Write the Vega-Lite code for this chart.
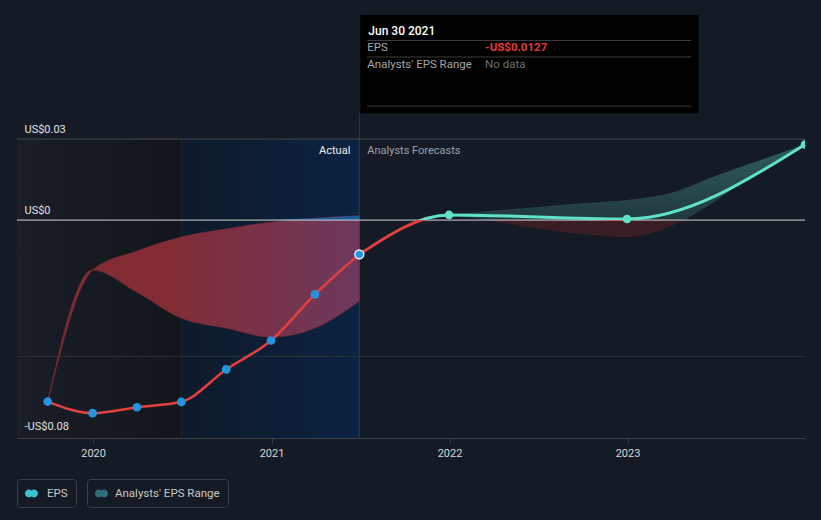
{
  "$schema": "https://vega.github.io/schema/vega-lite/v6.json",
  "width": 788,
  "height": 438,
  "autosize": {"type": "none"},
  "padding": {"left": 17, "right": 16, "top": 0, "bottom": 82},
  "background": "#151b24",
  "config": {"view": {"stroke": null}, "font": "Roboto"},
  "datasets": {
    "eps": [
      {"date": "2019-09-30", "eps": -0.0672},
      {"date": "2019-12-31", "eps": -0.0715},
      {"date": "2020-03-31", "eps": -0.0693},
      {"date": "2020-06-30", "eps": -0.0673},
      {"date": "2020-09-30", "eps": -0.0553},
      {"date": "2020-12-31", "eps": -0.0446},
      {"date": "2021-03-31", "eps": -0.0275},
      {"date": "2021-06-30", "eps": -0.0127}
    ],
    "fcline": [
      {"date": "2021-06-30", "eps": -0.0127},
      {"date": "2021-12-31", "eps": 0.0019},
      {"date": "2022-12-31", "eps": 0.0004},
      {"date": "2023-12-31", "eps": 0.028}
    ],
    "fcpts": [
      {"date": "2021-12-31", "eps": 0.0019},
      {"date": "2022-12-31", "eps": 0.0004},
      {"date": "2023-12-31", "eps": 0.028}
    ],
    "past": [
      {"date": "2019-09-30", "low": -0.0672, "high": -0.0672},
      {"date": "2019-12-31", "low": -0.0185, "high": -0.0185},
      {"date": "2020-03-31", "low": -0.0267, "high": -0.0115},
      {"date": "2020-06-30", "low": -0.0363, "high": -0.0063},
      {"date": "2020-09-30", "low": -0.04, "high": -0.0033},
      {"date": "2020-12-31", "low": -0.0433, "high": -0.0008},
      {"date": "2021-03-31", "low": -0.04, "high": 0.0007},
      {"date": "2021-06-30", "low": -0.03, "high": 0.0016}
    ],
    "sliver": [
      {"date": "2020-12-15", "high": 0},
      {"date": "2021-03-31", "high": 0.0007},
      {"date": "2021-06-30", "high": 0.0016}
    ],
    "fc": [
      {"date": "2021-12-31", "low": 0.0019, "high": 0.0019},
      {"date": "2022-03-31", "low": -0.0004, "high": 0.0035},
      {"date": "2022-06-30", "low": -0.003, "high": 0.0048},
      {"date": "2022-09-30", "low": -0.0052, "high": 0.0062},
      {"date": "2022-12-31", "low": -0.0063, "high": 0.0074},
      {"date": "2023-03-31", "low": -0.0022, "high": 0.01},
      {"date": "2023-06-30", "low": 0.007, "high": 0.0163},
      {"date": "2023-09-30", "low": 0.0185, "high": 0.0222},
      {"date": "2023-12-31", "low": 0.028, "high": 0.028}
    ]
  },
  "resolve": {"scale": {"color": "independent"}},
  "layer": [
    {
      "data": {"values": [{}]},
      "mark": {"type": "rect", "fill": {"gradient": "linear", "x1": 0, "y1": 0, "x2": 1, "y2": 0, "stops": [{"offset": 0, "color": "#191e27"}, {"offset": 1, "color": "#12161c"}]}},
      "encoding": {
        "x": {"datum": {"year": 2019, "month": 7, "date": 29, "utc": true}, "type": "temporal", "title": null},
        "x2": {"datum": {"year": 2020, "month": 6, "date": 30, "utc": true}},
        "y": {"datum": 0.03, "type": "quantitative", "title": null},
        "y2": {"datum": -0.0807}
      }
    },
    {
      "data": {"values": [{}]},
      "mark": {"type": "rect", "fill": {"gradient": "linear", "x1": 0, "y1": 0, "x2": 1, "y2": 0, "stops": [{"offset": 0, "color": "#0f1a2a"}, {"offset": 1, "color": "#0b2341"}]}},
      "encoding": {
        "x": {"datum": {"year": 2020, "month": 6, "date": 30, "utc": true}, "type": "temporal", "title": null},
        "x2": {"datum": {"year": 2021, "month": 6, "date": 30, "utc": true}},
        "y": {"datum": 0.03, "type": "quantitative", "title": null},
        "y2": {"datum": -0.0807}
      }
    },
    {
      "data": {"values": [{}]},
      "mark": {"type": "rule", "color": "#172a42", "strokeWidth": 1},
      "encoding": {
        "x": {"datum": {"year": 2020, "month": 6, "date": 30, "utc": true}, "type": "temporal", "title": null},
        "y": {"datum": 0.03, "type": "quantitative", "title": null},
        "y2": {"datum": -0.0807}
      }
    },
    {
      "data": {"values": [{}]},
      "mark": {"type": "rule", "color": "#1f3d63", "strokeWidth": 1},
      "encoding": {
        "x": {"datum": {"year": 2021, "month": 6, "date": 30, "utc": true}, "type": "temporal", "title": null},
        "y": {"datum": 0.0396, "type": "quantitative", "title": null},
        "y2": {"datum": -0.0807}
      }
    },
    {
      "data": {"values": [{}]},
      "mark": {"type": "rule", "color": "#474c55", "strokeWidth": 1},
      "encoding": {"y": {"datum": 0.03, "type": "quantitative", "title": null}}
    },
    {
      "data": {"values": [{}]},
      "mark": {"type": "rule", "color": "#2b313a", "strokeWidth": 1},
      "encoding": {"y": {"datum": -0.0505, "type": "quantitative", "title": null}}
    },
    {
      "data": {"name": "past"},
      "mark": {"type": "area", "interpolate": "monotone", "fillOpacity": 0.85, "stroke": "#7d2b32", "strokeWidth": 0.7,
        "fill": {"gradient": "linear", "x1": 0, "y1": 0, "x2": 1, "y2": 0, "stops": [{"offset": 0, "color": "#952e35"}, {"offset": 0.4, "color": "#952f37"}, {"offset": 1, "color": "#7e3d62"}]}},
      "encoding": {
        "x": {"field": "date", "type": "temporal", "title": null},
        "y": {"field": "low", "type": "quantitative", "title": null},
        "y2": {"field": "high"}
      }
    },
    {
      "data": {"name": "sliver"},
      "mark": {"type": "area", "interpolate": "monotone", "color": "#1b5d9c"},
      "encoding": {
        "x": {"field": "date", "type": "temporal", "title": null},
        "y": {"field": "high", "type": "quantitative", "title": null},
        "y2": {"datum": 0}
      }
    },
    {
      "data": {"name": "fc"},
      "mark": {"type": "area", "interpolate": "monotone",
        "fill": {"gradient": "linear", "x1": 0, "y1": 0, "x2": 0, "y2": 1, "stops": [{"offset": 0, "color": "#2f5e5c"}, {"offset": 0.8163, "color": "#21393c"}, {"offset": 0.8163, "color": "#3a1d25"}, {"offset": 1, "color": "#3a1d25"}]}},
      "encoding": {
        "x": {"field": "date", "type": "temporal", "title": null},
        "y": {"field": "low", "type": "quantitative", "title": null},
        "y2": {"field": "high"}
      }
    },
    {
      "data": {"values": [{}]},
      "mark": {"type": "rule", "color": "#d2d4d8", "strokeWidth": 1},
      "encoding": {"y": {"datum": 0, "type": "quantitative", "title": null}}
    },
    {
      "data": {"name": "eps"},
      "mark": {"type": "line", "interpolate": "monotone", "color": "#e4403f", "strokeWidth": 2.5},
      "encoding": {
        "x": {
          "field": "date", "type": "temporal", "title": null,
          "scale": {"type": "utc", "domain": [{"year": 2019, "month": 7, "date": 29, "utc": true}, {"year": 2023, "month": 12, "date": 31, "utc": true}]},
          "axis": {
            "values": [{"year": 2020, "month": 1, "date": 1, "utc": true}, {"year": 2021, "month": 1, "date": 1, "utc": true}, {"year": 2022, "month": 1, "date": 1, "utc": true}, {"year": 2023, "month": 1, "date": 1, "utc": true}],
            "format": "%Y", "grid": false, "domainColor": "#3a414b", "tickColor": "#3a414b", "tickSize": 5,
            "labelColor": "#d8d8d8", "labelFontSize": 11, "labelPadding": 4, "labelFlush": false, "title": null
          }
        },
        "y": {
          "field": "eps", "type": "quantitative", "title": null,
          "scale": {"domain": [-0.0807, 0.0815], "nice": false, "zero": false},
          "axis": {
            "values": [-0.08, 0, 0.03],
            "labelExpr": "datum.value == 0 ? 'US$0' : (datum.value < 0 ? '-US$' + format(-datum.value, '.2f') : 'US$' + format(datum.value, '.2f'))",
            "grid": false, "domain": false, "ticks": false, "tickSize": 0,
            "labelAlign": "left", "labelBaseline": "alphabetic", "labelPadding": -7, "labelOffset": -7,
            "labelColor": "#e2e2e2", "labelFontSize": 11, "labelFlush": false, "labelOverlap": false, "zindex": 1, "title": null
          }
        }
      }
    },
    {
      "data": {"name": "fcline"},
      "mark": {"type": "line", "interpolate": "monotone", "strokeWidth": 3,
        "stroke": {"gradient": "linear", "x1": 0, "y1": 0, "x2": 0, "y2": 1, "stops": [{"offset": 0, "color": "#5ee3c8"}, {"offset": 0.688, "color": "#5ee3c8"}, {"offset": 0.688, "color": "#e4403f"}, {"offset": 1, "color": "#e4403f"}]}},
      "encoding": {
        "x": {"field": "date", "type": "temporal", "title": null},
        "y": {"field": "eps", "type": "quantitative", "title": null}
      }
    },
    {
      "data": {"name": "eps"},
      "mark": {"type": "circle", "size": 75, "color": "#2394e0", "opacity": 1},
      "encoding": {
        "x": {"field": "date", "type": "temporal", "title": null},
        "y": {"field": "eps", "type": "quantitative", "title": null}
      }
    },
    {
      "data": {"values": [{"date": "2021-06-30", "eps": -0.0127}]},
      "mark": {"type": "circle", "size": 80, "fill": "#2394e0", "stroke": "#e8eef5", "strokeWidth": 1.5, "opacity": 1},
      "encoding": {
        "x": {"field": "date", "type": "temporal", "title": null},
        "y": {"field": "eps", "type": "quantitative", "title": null}
      }
    },
    {
      "data": {"name": "fcpts"},
      "mark": {"type": "circle", "size": 75, "color": "#5ee3c8", "opacity": 1, "clip": true},
      "encoding": {
        "x": {"field": "date", "type": "temporal", "title": null},
        "y": {"field": "eps", "type": "quantitative", "title": null}
      }
    },
    {
      "data": {"values": [{}]},
      "mark": {"type": "text", "text": "Actual", "align": "right", "baseline": "middle", "dx": -9, "color": "#f2f2f2", "fontSize": 11},
      "encoding": {
        "x": {"datum": {"year": 2021, "month": 6, "date": 30, "utc": true}, "type": "temporal", "title": null},
        "y": {"datum": 0.0256, "type": "quantitative", "title": null}
      }
    },
    {
      "data": {"values": [{}]},
      "mark": {"type": "text", "text": "Analysts Forecasts", "align": "left", "baseline": "middle", "dx": 8, "color": "#9aa1ab", "fontSize": 11},
      "encoding": {
        "x": {"datum": {"year": 2021, "month": 6, "date": 30, "utc": true}, "type": "temporal", "title": null},
        "y": {"datum": 0.0256, "type": "quantitative", "title": null}
      }
    },
    {
      "data": {"values": [{}]},
      "mark": {"type": "rect", "fill": "#000000"},
      "encoding": {
        "x": {"datum": {"year": 2021, "month": 7, "date": 2, "utc": true}, "type": "temporal", "title": null},
        "x2": {"datum": {"year": 2023, "month": 5, "date": 27, "utc": true}},
        "y": {"datum": 0.0759, "type": "quantitative", "title": null},
        "y2": {"datum": 0.0396}
      }
    },
    {
      "data": {"values": [{}]},
      "mark": {"type": "rule", "color": "#3c3c3c", "strokeWidth": 1},
      "encoding": {
        "x": {"datum": {"year": 2021, "month": 7, "date": 16, "utc": true}, "type": "temporal", "title": null},
        "x2": {"datum": {"year": 2023, "month": 5, "date": 12, "utc": true}},
        "y": {"datum": 0.0665, "type": "quantitative", "title": null}
      }
    },
    {
      "data": {"values": [{}]},
      "mark": {"type": "rule", "color": "#3c3c3c", "strokeWidth": 1},
      "encoding": {
        "x": {"datum": {"year": 2021, "month": 7, "date": 16, "utc": true}, "type": "temporal", "title": null},
        "x2": {"datum": {"year": 2023, "month": 5, "date": 12, "utc": true}},
        "y": {"datum": 0.0604, "type": "quantitative", "title": null}
      }
    },
    {
      "data": {"values": [{}]},
      "mark": {"type": "rule", "color": "#3c3c3c", "strokeWidth": 1},
      "encoding": {
        "x": {"datum": {"year": 2021, "month": 7, "date": 16, "utc": true}, "type": "temporal", "title": null},
        "x2": {"datum": {"year": 2023, "month": 5, "date": 12, "utc": true}},
        "y": {"datum": 0.0422, "type": "quantitative", "title": null}
      }
    },
    {
      "data": {"values": [{}]},
      "mark": {"type": "text", "text": "Jun 30 2021", "align": "left", "baseline": "middle", "dx": 9, "color": "#ffffff", "fontSize": 12, "fontWeight": 500},
      "encoding": {
        "x": {"datum": {"year": 2021, "month": 6, "date": 30, "utc": true}, "type": "temporal", "title": null},
        "y": {"datum": 0.07, "type": "quantitative", "title": null}
      }
    },
    {
      "data": {"values": [{}]},
      "mark": {"type": "text", "text": "EPS", "align": "left", "baseline": "middle", "dx": 8, "color": "#a6a6a6", "fontSize": 11.5},
      "encoding": {
        "x": {"datum": {"year": 2021, "month": 6, "date": 30, "utc": true}, "type": "temporal", "title": null},
        "y": {"datum": 0.0637, "type": "quantitative", "title": null}
      }
    },
    {
      "data": {"values": [{}]},
      "mark": {"type": "text", "text": "-US$0.0127", "align": "left", "baseline": "middle", "color": "#e8393d", "fontSize": 11.5, "fontWeight": "bold"},
      "encoding": {
        "x": {"datum": {"year": 2022, "month": 3, "date": 15, "utc": true}, "type": "temporal", "title": null},
        "y": {"datum": 0.0637, "type": "quantitative", "title": null}
      }
    },
    {
      "data": {"values": [{}]},
      "mark": {"type": "text", "text": "Analysts' EPS Range", "align": "left", "baseline": "middle", "dx": 8, "color": "#a6a6a6", "fontSize": 11.5},
      "encoding": {
        "x": {"datum": {"year": 2021, "month": 6, "date": 30, "utc": true}, "type": "temporal", "title": null},
        "y": {"datum": 0.0574, "type": "quantitative", "title": null}
      }
    },
    {
      "data": {"values": [{}]},
      "mark": {"type": "text", "text": "No data", "align": "left", "baseline": "middle", "color": "#6e6e6e", "fontSize": 11.5},
      "encoding": {
        "x": {"datum": {"year": 2022, "month": 3, "date": 15, "utc": true}, "type": "temporal", "title": null},
        "y": {"datum": 0.0574, "type": "quantitative", "title": null}
      }
    },
    {
      "data": {"values": [{"k": "EPS"}]},
      "mark": {"type": "point", "filled": true, "opacity": 0},
      "encoding": {
        "x": {"datum": {"year": 2021, "month": 1, "date": 1, "utc": true}, "type": "temporal", "title": null},
        "y": {"datum": 0, "type": "quantitative", "title": null},
        "color": {
          "field": "k", "type": "nominal", "scale": {"range": ["#3fc0d4"]},
          "legend": {"orient": "none", "legendX": 0, "legendY": 479, "title": null, "direction": "horizontal",
            "strokeColor": "#3a414b", "cornerRadius": 3, "padding": 8, "labelColor": "#c8c8c8", "labelFontSize": 11.5, "labelFont": "Roboto", "labelOffset": 9,
            "symbolType": "M-1,0A0.6,0.6,0,1,1,0.2,0A0.6,0.6,0,1,1,-1,0ZM-0.2,0A0.6,0.6,0,1,1,1,0A0.6,0.6,0,1,1,-0.2,0Z",
            "symbolSize": 169, "symbolOpacity": 1, "symbolStrokeWidth": 0}
        }
      }
    },
    {
      "data": {"values": [{"k": "Analysts' EPS Range"}]},
      "mark": {"type": "point", "filled": true, "opacity": 0},
      "encoding": {
        "x": {"datum": {"year": 2021, "month": 1, "date": 1, "utc": true}, "type": "temporal", "title": null},
        "y": {"datum": 0, "type": "quantitative", "title": null},
        "color": {
          "field": "k", "type": "nominal", "scale": {"range": ["#2f6f7c"]},
          "legend": {"orient": "none", "legendX": 70, "legendY": 479, "title": null, "direction": "horizontal",
            "strokeColor": "#3a414b", "cornerRadius": 3, "padding": 8, "labelColor": "#c8c8c8", "labelFontSize": 11.5, "labelFont": "Roboto", "labelOffset": 7,
            "symbolType": "M-1,0A0.6,0.6,0,1,1,0.2,0A0.6,0.6,0,1,1,-1,0ZM-0.2,0A0.6,0.6,0,1,1,1,0A0.6,0.6,0,1,1,-0.2,0Z",
            "symbolSize": 169, "symbolOpacity": 1, "symbolStrokeWidth": 0}
        }
      }
    }
  ]
}
